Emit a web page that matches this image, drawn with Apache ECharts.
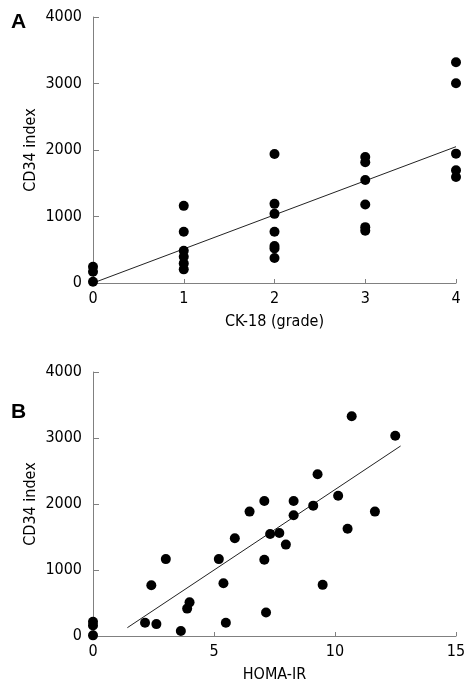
<!DOCTYPE html>
<html>
<head>
<meta charset="utf-8">
<script src="https://cdn.jsdelivr.net/npm/echarts@6/dist/echarts.min.js"></script>
<style>
html,body{margin:0;padding:0;background:#fff;}
#chart{width:473px;height:691px;}
</style>
</head>
<body>
<div id="chart"></div>
<script>
// Panel A: CK-18 grade vs CD34 index
const gradeA = [0,0,0, 1,1,1,1,1,1, 2,2,2,2,2,2,2, 3,3,3,3,3,3, 4,4,4,4,4];
const cd34A  = [245,170,20, 1160,770,485,395,295,205, 1940,1190,1040,770,555,520,375, 1895,1815,1550,1180,840,785, 3320,3005,1945,1695,1595];
const fitAx = [0, 4];
const fitAy = [0, 2050];

// Panel B: HOMA-IR vs CD34 index
const homaB = [0,0,0, 2.15,2.62,3.01,2.41,3.63,3.89,3.99,5.2,5.39,5.49,5.86,6.47,7.08,7.08,7.15,7.32,7.7,7.97,8.29,8.29,9.1,9.28,9.49,10.13,10.52,10.69,11.65,12.49];
const cd34B = [215,160,10, 200,180,1165,770,75,415,510,1165,800,200,1480,1885,2045,1155,355,1545,1560,1385,2045,1830,1975,2450,775,2125,1625,3330,1885,3035];
const fitBx = [1.42, 12.71];
const fitBy = [126, 2879];

const yTicks = [0, 1000, 2000, 3000, 4000];
const xNameA = 'CK-18 (grade)';
const xNameB = 'HOMA-IR';
const yName = 'CD34 index';

const FONT = '"DejaVu Sans Condensed", "DejaVu Sans", sans-serif';
const AX = '#808080';

function pairs(xs, ys){ return xs.map((x,i)=>[x, ys[i]]); }

function xAxisCfg(gi, max, interval, name){
  return {
    type:'value', gridIndex:gi, min:0, max:max, interval:interval,
    name:name, nameLocation:'middle', nameGap:31, nameMoveOverlap:false,
    nameTextStyle:{fontFamily:FONT, fontSize:16, color:'#000'},
    axisLine:{show:true, lineStyle:{color:AX, width:1}},
    axisTick:{show:true, inside:true, length:4, lineStyle:{color:AX}},
    axisLabel:{fontFamily:FONT, fontSize:16, color:'#000', margin:8, formatter:v=>String(v)},
    splitLine:{show:false}
  };
}
function yAxisCfg(gi){
  return {
    type:'value', gridIndex:gi, min:yTicks[0], max:yTicks[yTicks.length-1], interval:yTicks[1]-yTicks[0],
    name:yName, nameLocation:'middle', nameGap:54, nameMoveOverlap:false,
    nameTextStyle:{fontFamily:FONT, fontSize:16, color:'#000'},
    axisLine:{show:true, lineStyle:{color:AX, width:1}},
    axisTick:{show:true, inside:true, length:6, lineStyle:{color:AX}},
    axisLabel:{fontFamily:FONT, fontSize:16, color:'#000', margin:11, formatter:v=>String(v)},
    splitLine:{show:false}
  };
}

const chart = echarts.init(document.getElementById('chart'), null, {renderer:'canvas'});
chart.setOption({
  animation:false,
  backgroundColor:'#fff',
  graphic:[
    {type:'text', left:11, top:12, style:{text:'A', font:'bold 21px "Liberation Sans", Arial, sans-serif', fill:'#000'}},
    {type:'text', left:11, top:402, style:{text:'B', font:'bold 21px "Liberation Sans", Arial, sans-serif', fill:'#000'}}
  ],
  grid:[
    {left:93, right:17, top:17, height:266},
    {left:93, right:17, top:372, height:264}
  ],
  xAxis:[xAxisCfg(0, 4, 1, xNameA), xAxisCfg(1, 15, 5, xNameB)],
  yAxis:[yAxisCfg(0), yAxisCfg(1)],
  series:[
    {type:'line', xAxisIndex:0, yAxisIndex:0, data:pairs(fitAx, fitAy), symbol:'none',
     lineStyle:{color:'#222', width:1}, z:1},
    {type:'scatter', xAxisIndex:0, yAxisIndex:0, data:pairs(gradeA, cd34A), symbolSize:10,
     itemStyle:{color:'#000', opacity:1}, z:2, clip:false},
    {type:'line', xAxisIndex:1, yAxisIndex:1, data:pairs(fitBx, fitBy), symbol:'none',
     lineStyle:{color:'#222', width:1}, z:1},
    {type:'scatter', xAxisIndex:1, yAxisIndex:1, data:pairs(homaB, cd34B), symbolSize:10,
     itemStyle:{color:'#000', opacity:1}, z:2, clip:false}
  ]
});
</script>
</body>
</html>
